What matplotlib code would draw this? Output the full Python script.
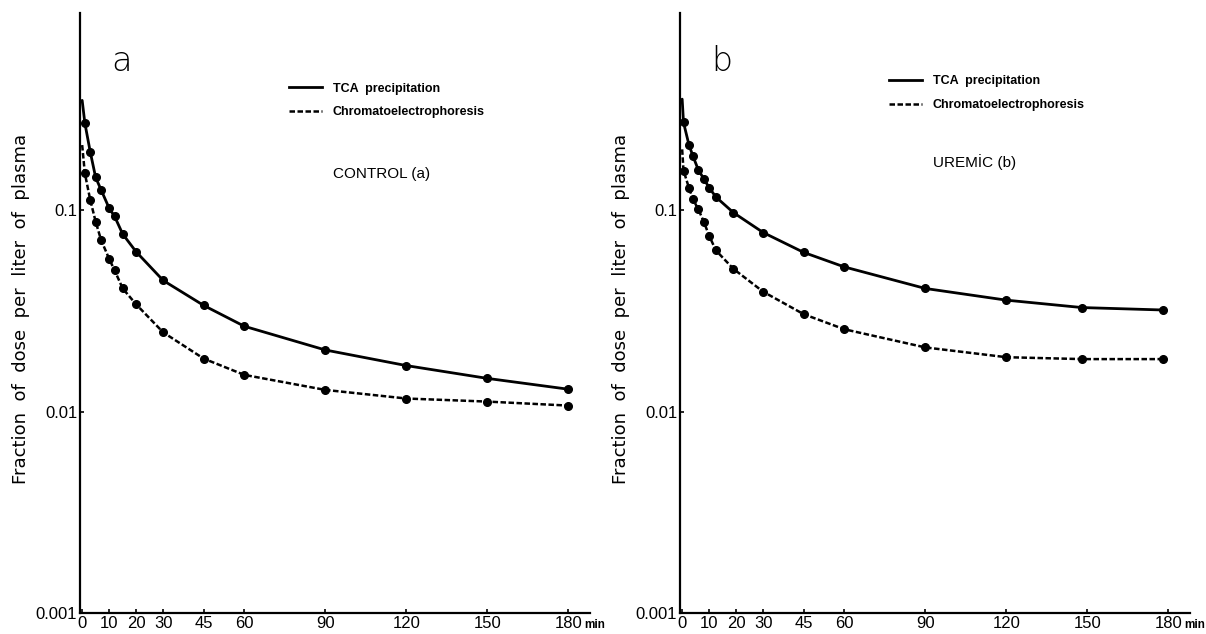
import numpy as np
import matplotlib
matplotlib.use("Agg")
import matplotlib.pyplot as plt
from matplotlib.lines import Line2D

# Sampling times (min) and fractions.
# First entry of each series is where the curve meets the y axis (t = 0, no dot).
time_a = [0, 1, 3, 5, 7, 10, 12, 15, 20, 30, 45, 60, 90, 120, 150, 180]
tca_a = [0.35, 0.27, 0.194, 0.145, 0.126, 0.102, 0.093, 0.076, 0.062,
         0.0447, 0.0336, 0.0265, 0.0202, 0.0169, 0.0146, 0.0129]
chrom_a = [0.21, 0.152, 0.112, 0.0875, 0.071, 0.0572, 0.0502, 0.0408, 0.034,
           0.0247, 0.0183, 0.0152, 0.0128, 0.0116, 0.0112, 0.0107]

time_b = [0, 0.5, 2.5, 4, 6, 8, 10, 12.5, 19, 30, 45, 60, 90, 120, 148, 178]
tca_b = [0.355, 0.272, 0.211, 0.185, 0.158, 0.143, 0.129, 0.116, 0.097,
         0.0773, 0.0616, 0.0522, 0.0408, 0.0357, 0.0328, 0.0319]
chrom_b = [0.2, 0.157, 0.129, 0.113, 0.1007, 0.0875, 0.0745, 0.063, 0.051,
           0.0393, 0.0304, 0.0256, 0.0208, 0.0186, 0.0182, 0.0182]

x_ticks = [0, 10, 20, 30, 45, 60, 90, 120, 150, 180]
y_ticks = [0.001, 0.01, 0.1]
y_tick_labels = ["0.001", "0.01", "0.1"]

panels = [
    ("a", "CONTROL (a)", time_a, tca_a, chrom_a),
    ("b", "UREMİC (b)", time_b, tca_b, chrom_b),
]

narrow = ["Liberation Sans", "DejaVu Sans"]

fig = plt.figure(figsize=(12.06, 6.34), dpi=100)
axes = [fig.add_axes([80 / 1206, 21 / 634, 510 / 1206, 600 / 634]),
        fig.add_axes([680 / 1206, 21 / 634, 510 / 1206, 600 / 634])]

for ax, (letter, group, t, tca, chrom) in zip(axes, panels):
    ax.set_yscale("log")
    ax.set_xlim(-0.8, 188)
    ax.set_ylim(0.001, 0.95)

    # solid curve = TCA precipitation, dashed = chromatoelectrophoresis
    ax.plot(t, tca, color="black", lw=2.0, solid_capstyle="round")
    ax.plot(t[1:], tca[1:], "o", color="black", ms=5.5)
    ax.plot(t, chrom, color="black", lw=1.8, ls=(0, (2.2, 1.0)))
    ax.plot(t[1:], chrom[1:], "o", color="black", ms=5.5)

    for side in ["top", "right"]:
        ax.spines[side].set_visible(False)
    for side in ["left", "bottom"]:
        ax.spines[side].set_linewidth(1.6)

    ax.set_xticks(x_ticks)
    ax.set_xticklabels([str(v) for v in x_ticks], family=narrow, fontsize=12)
    ax.set_yticks(y_ticks)
    ax.set_yticklabels(y_tick_labels, family=narrow, fontsize=12)
    ax.yaxis.set_minor_locator(matplotlib.ticker.NullLocator())
    ax.tick_params(axis="both", direction="in", length=3, width=1.2, pad=2)
    ax.tick_params(axis="x", pad=2)

    ax.text(0.988, -0.02, "min", transform=ax.transAxes, fontsize=8.5,
            fontweight="bold", family=narrow, ha="left", va="center")

    ax.set_ylabel("Fraction  of  dose  per  liter  of  plasma", fontsize=13)
    ax.yaxis.set_label_coords(-0.098, 0.507)

    ax.text(0.082, 0.919, letter, transform=ax.transAxes, fontsize=24,
            fontweight="light", ha="center", va="center")

    handles = [Line2D([], [], color="black", lw=2.0),
               Line2D([], [], color="black", lw=1.8, ls=(0, (2.2, 1.0)))]
    ax.legend(handles, ["TCA  precipitation", "Chromatoelectrophoresis"],
              loc="upper left",
              bbox_to_anchor=(0.41, 0.884 if letter == "a" else 0.896),
              frameon=False, borderpad=0, borderaxespad=0, handlelength=2.6,
              handletextpad=0.9, labelspacing=0.95,
              prop={"family": narrow, "size": 9, "weight": "bold"})

    ax.text(0.497, 0.731 if letter == "a" else 0.751, group,
            transform=ax.transAxes, fontsize=11, family=narrow,
            ha="left", va="center")

fig.savefig("out.png", dpi=100)
